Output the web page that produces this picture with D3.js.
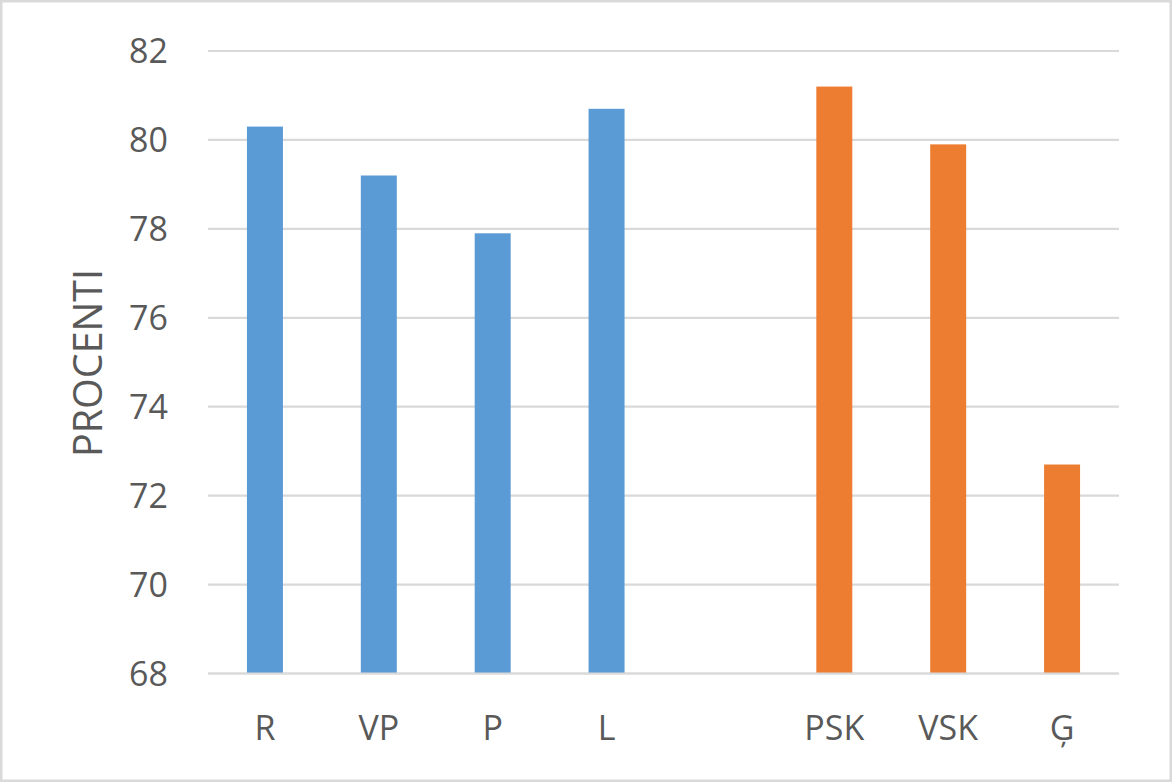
<!DOCTYPE html>
<html><head><meta charset="utf-8">
<script src="https://cdn.jsdelivr.net/npm/d3@7"></script>
<style>html,body{margin:0;padding:0;background:#fff;}svg{display:block;}</style>
</head><body>
<script>
const categories = ["R","VP","P","L","","PSK","VSK","Ģ"];
const series1 = [80.3, 79.2, 77.9, 80.7, null, null, null, null];
const series2 = [null, null, null, null, null, 81.2, 79.9, 72.7];
const yTicks = [68,70,72,74,76,78,80,82];
const colors = ["#5b9bd5", "#ed7d31"];

const W = 1172, H = 782;
const svg = d3.select("body").append("svg").attr("width", W).attr("height", H);
svg.append("rect").attr("x",1.25).attr("y",1.25).attr("width",W-2.5).attr("height",H-2.5)
  .attr("fill","#fff").attr("stroke","#d9d9d9").attr("stroke-width",2.5);

const x = d3.scaleBand().domain(categories.map((c,i)=>i)).range([208,1119]).padding(0);
const y = d3.scaleLinear().domain([68,82]).range([673.5,51]);
const barW = x.bandwidth()*0.316;

const font = "'Open Sans', 'Liberation Sans', sans-serif";
const textColor = "#595959";

// gridlines
svg.append("g").selectAll("line").data(yTicks).join("line")
  .attr("x1",208).attr("x2",1119).attr("y1",d=>y(d)).attr("y2",d=>y(d))
  .attr("stroke","#d9d9d9").attr("stroke-width",2.2);

// bars
[series1, series2].forEach((s, si) => {
  svg.append("g").selectAll("rect").data(s.map((v,i)=>({v,i})).filter(d=>d.v!=null)).join("rect")
    .attr("x", d => x(d.i) + x.bandwidth()/2 - barW/2)
    .attr("width", barW)
    .attr("y", d => y(d.v))
    .attr("height", d => y(68) - y(d.v))
    .attr("fill", colors[si]);
});

// axis line
svg.append("line").attr("x1",208).attr("x2",1119).attr("y1",y(68)).attr("y2",y(68))
  .attr("stroke","#d9d9d9").attr("stroke-width",2.2);

// y tick labels
svg.append("g").selectAll("text").data(yTicks).join("text")
  .attr("x",168).attr("y",d=>y(d)).attr("dy","0.36em").attr("text-anchor","end")
  .attr("font-family",font).attr("font-size",34).attr("fill",textColor)
  .text(d=>d);

// x labels
svg.append("g").selectAll("text").data(categories).join("text")
  .attr("x",(d,i)=>x(i)+x.bandwidth()/2).attr("y",740)
  .attr("text-anchor","middle")
  .attr("font-family",font).attr("font-size",34).attr("fill",textColor)
  .text(d=>d);

// y title
svg.append("text").attr("transform","translate(102,363) rotate(-90)")
  .attr("text-anchor","middle")
  .attr("font-family",font).attr("font-size",39.5).attr("fill",textColor)
  .text("PROCENTI");
</script>
</body></html>
